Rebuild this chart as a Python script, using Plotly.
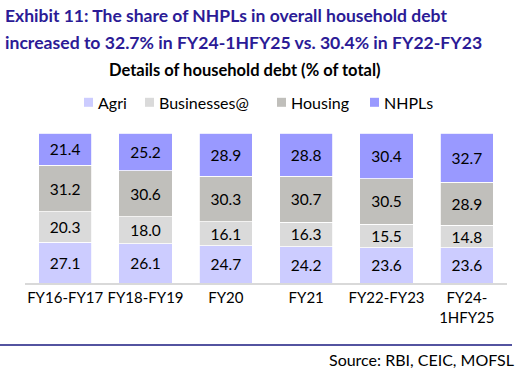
import plotly.graph_objects as go

categories = ["FY16-FY17", "FY18-FY19", "FY20", "FY21", "FY22-FY23", "FY24-<br>1HFY25"]
agri = [27.1, 26.1, 24.7, 24.2, 23.6, 23.6]
businesses = [20.3, 18.0, 16.1, 16.3, 15.5, 14.8]
housing = [31.2, 30.6, 30.3, 30.7, 30.5, 28.9]
nhpls = [21.4, 25.2, 28.9, 28.8, 30.4, 32.7]

series = [
    ("Agri", agri, "#ccccff"),
    ("Businesses@", businesses, "#dadada"),
    ("Housing", housing, "#c0bfbb"),
    ("NHPLs", nhpls, "#9999ff"),
]

FONT = "Lato"
W, H = 520, 371
L, R, T, B = 25, 13, 133, 88
PW, PH = W - L - R, H - T - B

def px(x):
    return (x - L) / PW

def py(y):
    return (H - B - y) / PH

fig = go.Figure()
for name, vals, col in series:
    fig.add_trace(go.Bar(
        x=categories, y=vals, name=name,
        marker=dict(color=col, line=dict(color="white", width=0.8)),
        texttemplate="%{y:.1f}", textposition="inside", insidetextanchor="middle",
        textfont=dict(family=FONT, size=15.5, color="black"),
        constraintext="none", hoverinfo="skip",
    ))

annotations = [
    dict(text="<b>Exhibit 11: The share of NHPLs in overall household debt</b>",
         xref="paper", yref="paper", x=px(3), y=py(15),
         xanchor="left", yanchor="middle", showarrow=False,
         font=dict(family=FONT, size=17.5, color="#2b1b96")),
    dict(text="<b>increased to 32.7% in FY24-1HFY25 vs. 30.4% in FY22-FY23</b>",
         xref="paper", yref="paper", x=px(3), y=py(43),
         xanchor="left", yanchor="middle", showarrow=False,
         font=dict(family=FONT, size=17.6, color="#2b1b96")),
    dict(text="<b>Details of household debt (% of total)</b>",
         xref="paper", yref="paper", x=px(245), y=py(70),
         xanchor="center", yanchor="middle", showarrow=False,
         font=dict(family=FONT, size=16.5, color="black")),
    dict(text="Source: RBI, CEIC, MOFSL",
         xref="paper", yref="paper", x=px(516), y=py(359),
         xanchor="right", yanchor="middle", showarrow=False,
         font=dict(family=FONT, size=16, color="black")),
]
shapes = [
    dict(type="line", xref="paper", yref="paper",
         x0=px(0), x1=px(512), y0=py(345), y1=py(345),
         line=dict(color="#1a1a80", width=1.5)),
]

# legend (custom layout to match the reference's compact spacing)
legend_left = [84, 145, 277, 370]
legend_cy, sq = 102.3, 9
for (name, _, col), lx in zip(series, legend_left):
    shapes.append(dict(type="rect", xref="paper", yref="paper",
                       x0=px(lx), x1=px(lx + sq), y0=py(legend_cy + sq / 2), y1=py(legend_cy - sq / 2),
                       fillcolor=col, line=dict(width=0)))
    annotations.append(dict(text=name, xref="paper", yref="paper",
                            x=px(lx + sq + 3), y=py(legend_cy), xanchor="left", yanchor="middle",
                            showarrow=False, font=dict(family=FONT, size=16, color="black")))

fig.update_layout(
    barmode="stack",
    width=W, height=H,
    margin=dict(l=L, r=R, t=T, b=B),
    paper_bgcolor="white", plot_bgcolor="white",
    bargap=0.34,
    showlegend=False,
    xaxis=dict(showline=True, linecolor="#d9d9d9", linewidth=2, ticks="",
               tickfont=dict(family=FONT, size=15, color="black"), tickangle=0),
    yaxis=dict(range=[0, 100], visible=False, showgrid=False),
    annotations=annotations,
    shapes=shapes,
)

fig.write_html("out.html", config={"displayModeBar": False},
               post_script="document.body.style.margin='0px';")
